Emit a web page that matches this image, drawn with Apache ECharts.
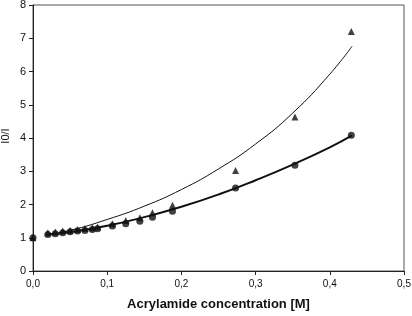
<!DOCTYPE html>
<html>
<head>
<meta charset="utf-8">
<script src="https://cdn.jsdelivr.net/npm/echarts@6/dist/echarts.min.js"></script>
<style>
  html, body { margin: 0; padding: 0; background: #fff; }
  #chart { width: 412px; height: 316px; }
</style>
</head>
<body>
<div id="chart"></div>
<script>
// measured points
const conc = [0, 0.02, 0.03, 0.04, 0.05, 0.06, 0.07, 0.08, 0.087, 0.107, 0.125, 0.144, 0.161, 0.188, 0.273, 0.353, 0.429]
const circleVals = [1.0, 1.1, 1.12, 1.15, 1.18, 1.2, 1.22, 1.25, 1.27, 1.35, 1.42, 1.5, 1.62, 1.8, 2.5, 3.18, 4.08]
const triangleVals = [1.0, 1.15, 1.17, 1.2, 1.22, 1.25, 1.28, 1.3, 1.32, 1.42, 1.52, 1.6, 1.75, 1.98, 3.02, 4.63, 7.2]

// fitted curves
const fitX = [0.02, 0.05, 0.1, 0.15, 0.2, 0.25, 0.3, 0.35, 0.4, 0.43]
const upperFit = [1.1, 1.22, 1.55, 1.95, 2.45, 3.07, 3.82, 4.75, 5.92, 6.76]
const lowerFit = [1.1, 1.17, 1.36, 1.62, 1.93, 2.3, 2.73, 3.2, 3.72, 4.08]

const zip = (xs, ys) => xs.map((x, i) => [x, ys[i]])

const chart = echarts.init(document.getElementById('chart'))
const font = 'Liberation Sans, Arial, sans-serif'

chart.setOption({
  animation: false,
  grid: {
    left: 33, right: 8, top: 5, bottom: 45,
    outerBoundsMode: 'none', containLabel: false,
    show: true, borderColor: '#555', borderWidth: 1, backgroundColor: '#fff'
  },
  // y axis title drawn by hand, the axis name kept getting clipped at the edge
  graphic: [{
    type: 'text', x: 6, y: 136, rotation: Math.PI / 2,
    style: { text: 'I0/I', fill: '#111', font: '11px ' + font, textAlign: 'center', textVerticalAlign: 'middle' }
  }],
  xAxis: {
    type: 'value', min: 0, max: 0.5, interval: 0.1,
    name: 'Acrylamide concentration [M]',
    nameLocation: 'middle', nameGap: 27, nameMoveOverlap: false,
    nameTextStyle: { color: '#111', fontFamily: font, fontSize: 13, fontWeight: 'bold' },
    axisLine: { lineStyle: { color: '#222', width: 1 } },
    axisTick: { inside: false, length: 4, lineStyle: { color: '#222' } },
    axisLabel: { margin: 8, color: '#111', fontFamily: font, fontSize: 10,
      formatter: v => v.toFixed(1).replace('.', ',') },
    splitLine: { show: false }
  },
  yAxis: {
    type: 'value', min: 0, max: 8, interval: 1,
    axisLine: { lineStyle: { color: '#222', width: 1 } },
    axisTick: { inside: false, length: 4, lineStyle: { color: '#222' } },
    axisLabel: { margin: 7, color: '#111', fontFamily: font, fontSize: 11 },
    splitLine: { show: false }
  },
  series: [
    {
      type: 'line', data: zip(fitX, upperFit), smooth: true,
      symbol: 'none', lineStyle: { color: '#111', width: 1 }, z: 2
    },
    {
      type: 'line', data: zip(fitX, lowerFit), smooth: true,
      symbol: 'none', lineStyle: { color: '#111', width: 2 }, z: 2
    },
    {
      type: 'scatter', data: zip(conc, triangleVals),
      symbol: 'triangle', symbolSize: 7, itemStyle: { color: '#111' }, z: 3
    },
    {
      type: 'scatter', data: zip(conc, circleVals),
      symbol: 'circle', symbolSize: 7, itemStyle: { color: '#111' }, z: 3
    }
  ]
})
</script>
</body>
</html>
